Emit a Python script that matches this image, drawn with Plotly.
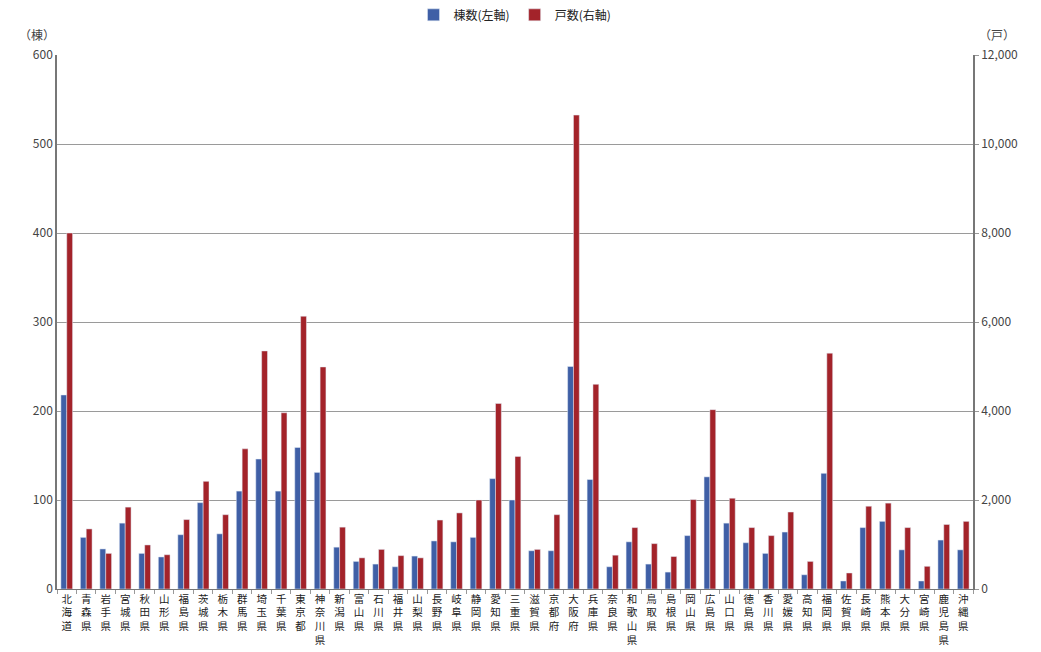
import plotly.graph_objects as go

prefectures = ["北海道","青森県","岩手県","宮城県","秋田県","山形県","福島県","茨城県","栃木県","群馬県",
               "埼玉県","千葉県","東京都","神奈川県","新潟県","富山県","石川県","福井県","山梨県","長野県",
               "岐阜県","静岡県","愛知県","三重県","滋賀県","京都府","大阪府","兵庫県","奈良県","和歌山県",
               "鳥取県","島根県","岡山県","広島県","山口県","徳島県","香川県","愛媛県","高知県","福岡県",
               "佐賀県","長崎県","熊本県","大分県","宮崎県","鹿児島県","沖縄県"]

buildings = [218, 58, 45, 74, 40, 36, 61, 97, 62, 110,
             146, 110, 159, 131, 47, 31, 28, 25, 37, 54,
             53, 58, 124, 100, 43, 43, 250, 123, 25, 53,
             28, 19, 60, 126, 74, 52, 40, 64, 16, 130,
             9, 69, 76, 44, 9, 55, 44]

households = [8000, 1350, 800, 1840, 990, 770, 1560, 2420, 1670, 3150,
              5350, 3960, 6130, 4990, 1390, 700, 890, 750, 700, 1550,
              1710, 2000, 4170, 2980, 890, 1670, 10650, 4600, 760, 1380,
              1020, 730, 2010, 4030, 2040, 1380, 1200, 1730, 620, 5300,
              360, 1860, 1930, 1380, 510, 1450, 1520]

left_ticks = [0, 100, 200, 300, 400, 500, 600]
right_ticks = [0, 2000, 4000, 6000, 8000, 10000, 12000]

labels = ["<br>".join(list(p)) for p in prefectures]

FONT = "Noto Sans CJK JP"
BLUE = "#3F5FA6"
RED = "#A3232A"

fig = go.Figure()
fig.add_trace(go.Bar(x=labels, y=buildings, name="棟数(左軸)", marker_color=BLUE,
                     offsetgroup="a", yaxis="y"))
fig.add_trace(go.Bar(x=labels, y=households, name="戸数(右軸)", marker_color=RED,
                     offsetgroup="b", yaxis="y2"))

fig.update_layout(
    width=1041, height=652,
    margin=dict(l=57, r=68, t=55, b=63),
    paper_bgcolor="white", plot_bgcolor="white",
    font=dict(family=FONT, color="#444", size=12),
    barmode="group", bargap=0.4, bargroupgap=0.0,
    showlegend=True,
    legend=dict(orientation="h", x=0.5, xanchor="center", y=0.955, yanchor="bottom",
                yref="container", font=dict(size=12, color="#222"),
                itemwidth=30, traceorder="normal"),
    xaxis=dict(type="category", tickangle=0, tickfont=dict(size=10.5, color="#222"),
               automargin=False,
               showline=True, linecolor="#777", linewidth=1,
               ticks="outside", tickson="boundaries", ticklen=4, tickcolor="#999",
               showgrid=False, range=[-0.5, len(labels) - 0.5]),
    yaxis=dict(range=[0, 600], tickvals=left_ticks, showgrid=True, gridcolor="#9a9a9a",
               gridwidth=1, showline=True, linecolor="#777", linewidth=1.5,
               automargin=False,
               tickfont=dict(size=12, color="#444"), ticks="", zeroline=False),
    yaxis2=dict(range=[0, 12000], tickvals=right_ticks, overlaying="y", side="right",
                showgrid=False, showline=True, linecolor="#777", linewidth=1.5,
                automargin=False,
                tickformat=",", tickfont=dict(size=12, color="#444"), ticks="outside",
                ticklen=4, tickcolor="#999", zeroline=False),
)

fig.add_annotation(text="（棟）", x=0.0, xref="paper", xanchor="right", xshift=0,
                   y=1.0, yref="paper", yanchor="bottom", yshift=10,
                   showarrow=False, font=dict(size=12, color="#444", family=FONT))
fig.add_annotation(text="（戸）", x=1.0, xref="paper", xanchor="left", xshift=4,
                   y=1.0, yref="paper", yanchor="bottom", yshift=10,
                   showarrow=False, font=dict(size=12, color="#444", family=FONT))

fig.write_html("out.html")
